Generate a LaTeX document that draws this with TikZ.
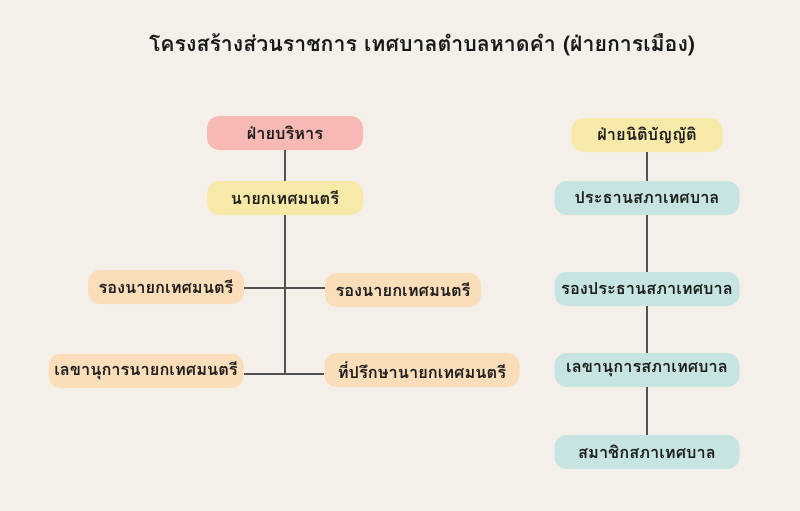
\documentclass[tikz,border=0pt]{standalone}
\usepackage{fontspec}
\setmainfont[Script=Thai]{Loma}
\definecolor{bgcol}{HTML}{F4EFE9}
\definecolor{pinkbox}{HTML}{F6B9B4}
\definecolor{yellowbox}{HTML}{F7EAA8}
\definecolor{peachbox}{HTML}{FADDB9}
\definecolor{tealbox}{HTML}{C6E5E2}
\begin{document}
\begin{tikzpicture}[x=1pt,y=-1pt,
    box/.style={rounded corners=12pt, minimum height=34pt, inner sep=0pt,
      font=\bfseries\fontsize{16.4}{18}\selectfont, text=black!88},
    link/.style={draw=black!68, line width=1.1pt}]
    \fill[bgcol] (0,0) rectangle (800,511);
    \useasboundingbox (0,0) rectangle (800,511);
    \node[font=\bfseries\fontsize{21.3}{26}\selectfont, text=black!90] (title) at (422,45) {โครงสร้างส่วนราชการ เทศบาลตำบลหาดคำ (ฝ่ายการเมือง)};
    % executive side
    \node[box, fill=pinkbox, minimum width=156pt] (exec) at (285,133) {ฝ่ายบริหาร};
    \node[box, fill=yellowbox, minimum width=156pt] (mayor) at (285,198) {นายกเทศมนตรี};
    \node[box, fill=peachbox, minimum width=156pt] (depL) at (166,287) {รองนายกเทศมนตรี};
    \node[box, fill=peachbox, minimum width=156pt] (depR) at (403,290) {รองนายกเทศมนตรี};
    \node[box, fill=peachbox, minimum width=195pt] (sec) at (146,371) {เลขานุการนายกเทศมนตรี};
    \node[box, fill=peachbox, minimum width=195pt] (adv) at (422,370) {ที่ปรึกษานายกเทศมนตรี};
    \coordinate (bottom) at (285,374);
    \coordinate (mid) at (285,288);
    \draw[link] (exec) -- (mayor);
    \draw[link] (mayor) -- (bottom);
    \draw[link] (depL.east |- mid) -- (depR.west |- mid);
    \draw[link] (sec.east |- bottom) -- (adv.west |- bottom);
    % legislative side
    \node[box, fill=yellowbox, minimum width=151pt] (leg) at (647,135) {ฝ่ายนิติบัญญัติ};
    \foreach \y/\n/\t in {198/chair/ประธานสภาเทศบาล, 289/vice/รองประธานสภาเทศบาล,
        370/clerk/เลขานุการสภาเทศบาล, 452/member/สมาชิกสภาเทศบาล}{
        \node[box, fill=tealbox, minimum width=185pt] (\n) at (647,\y) {\t};
    }
    \draw[link] (leg) -- (chair);
    \draw[link] (chair) -- (vice);
    \draw[link] (vice) -- (clerk);
    \draw[link] (clerk) -- (member);
\end{tikzpicture}
\end{document}
